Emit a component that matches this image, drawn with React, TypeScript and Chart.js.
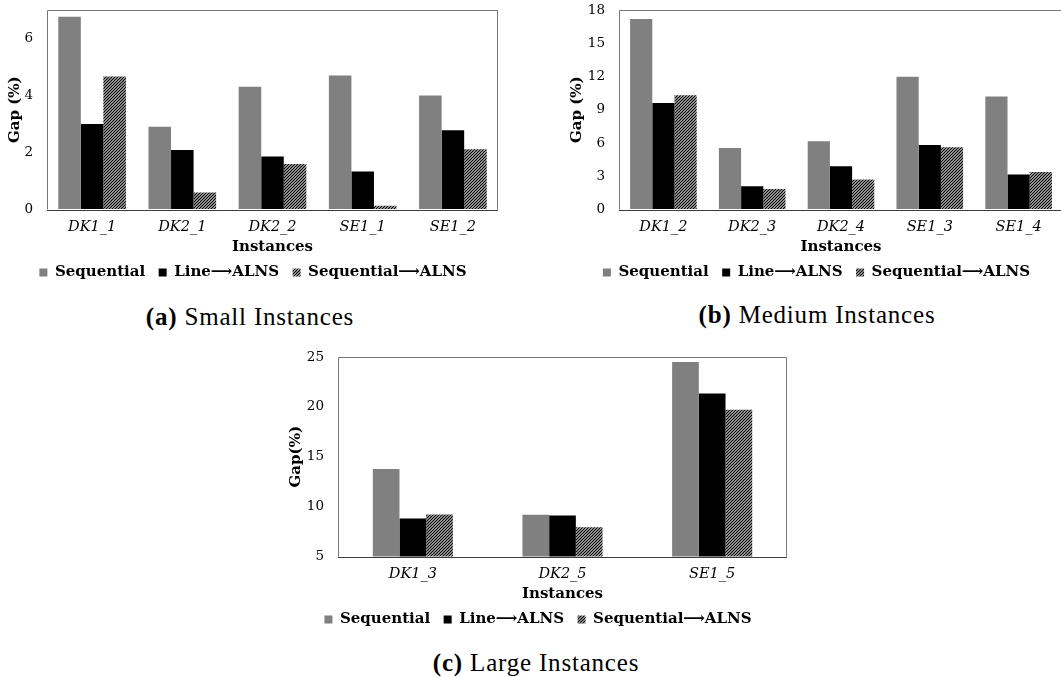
import React, { useEffect, useRef } from 'react';
import { Chart, registerables } from 'chart.js';

Chart.register(...registerables);

// ---------- data ----------
const seriesNames = ['Sequential', 'Line\u27F6ALNS', 'Sequential\u27F6ALNS'];

const smallCategories = ['DK1_1', 'DK2_1', 'DK2_2', 'SE1_1', 'SE1_2'];
const smallSequential = [6.76, 2.9, 4.31, 4.7, 4.0];
const smallLineALNS = [3.0, 2.09, 1.86, 1.33, 2.78];
const smallSeqALNS = [4.67, 0.6, 1.6, 0.13, 2.11];
const smallTicks = [0, 2, 4, 6];

const mediumCategories = ['DK1_2', 'DK2_3', 'DK2_4', 'SE1_3', 'SE1_4'];
const mediumSequential = [17.19, 5.55, 6.15, 11.97, 10.2];
const mediumLineALNS = [9.6, 2.1, 3.9, 5.82, 3.15];
const mediumSeqALNS = [10.3, 1.86, 2.7, 5.61, 3.39];
const mediumTicks = [0, 3, 6, 9, 12, 15, 18];

const largeCategories = ['DK1_3', 'DK2_5', 'SE1_5'];
const largeSequential = [13.77, 9.19, 24.5];
const largeLineALNS = [8.82, 9.12, 21.35];
const largeSeqALNS = [9.22, 7.92, 19.7];
const largeTicks = [5, 10, 15, 20, 25];

// ---------- helpers ----------
const FONT = 'DejaVu Serif';

function makeHatch(ctx: CanvasRenderingContext2D) {
  const c = document.createElement('canvas');
  c.width = 3;
  c.height = 3;
  const g = c.getContext('2d')!;
  g.fillStyle = '#ffffff';
  g.fillRect(0, 0, 3, 3);
  g.strokeStyle = '#000000';
  g.lineWidth = 1.3;
  g.beginPath();
  g.moveTo(-1, 4);
  g.lineTo(4, -1);
  g.moveTo(-2, 2);
  g.lineTo(2, -2);
  g.moveTo(1, 5);
  g.lineTo(5, 1);
  g.stroke();
  return ctx.createPattern(c, 'repeat');
}

const framePlugin = {
  id: 'frame',
  afterDatasetsDraw(chart: any) {
    const { ctx, chartArea } = chart;
    const { left, right, top, bottom } = chartArea;
    ctx.save();
    ctx.lineWidth = 1;
    ctx.strokeStyle = '#767676';
    ctx.beginPath();
    ctx.moveTo(Math.round(left) + 0.5, bottom);
    ctx.lineTo(Math.round(left) + 0.5, Math.round(top) + 0.5);
    ctx.lineTo(Math.round(right) - 0.5, Math.round(top) + 0.5);
    ctx.lineTo(Math.round(right) - 0.5, bottom);
    ctx.stroke();
    ctx.strokeStyle = '#3c3c3c';
    ctx.beginPath();
    ctx.moveTo(left, Math.round(bottom) + 0.5);
    ctx.lineTo(right, Math.round(bottom) + 0.5);
    ctx.stroke();
    ctx.restore();
  },
};

interface PanelSpec {
  categories: string[];
  seq: number[];
  line: number[];
  sa: number[];
  ticks: number[];
  min: number;
  max: number;
  yTitle: string;
  catPct: number;
  x: number;
  y: number;
  w: number;
  h: number;
  padding: { left: number; right: number; top: number; bottom: number };
  yWidth: number;
}

function BarPanel({ spec }: { spec: PanelSpec }) {
  const ref = useRef<HTMLCanvasElement>(null);
  useEffect(() => {
    const canvas = ref.current!;
    const ctx = canvas.getContext('2d')!;
    const hatch = makeHatch(ctx);
    const chart = new Chart(canvas, {
      type: 'bar',
      data: {
        labels: spec.categories,
        datasets: [
          { label: seriesNames[0], data: spec.seq, backgroundColor: '#808080', borderWidth: 0 },
          { label: seriesNames[1], data: spec.line, backgroundColor: '#000000', borderWidth: 0 },
          { label: seriesNames[2], data: spec.sa, backgroundColor: hatch as any, borderWidth: 0 },
        ],
      },
      options: {
        responsive: false,
        animation: false,
        devicePixelRatio: 1,
        layout: { padding: spec.padding },
        datasets: { bar: { categoryPercentage: spec.catPct, barPercentage: 1 } },
        plugins: {
          legend: {
            position: 'bottom',
            labels: {
              boxWidth: 8,
              boxHeight: 8,
              padding: 13.5,
              color: '#000000',
              font: { family: FONT, size: 15, weight: 'bold' },
            },
          },
          tooltip: { enabled: false },
        },
        scales: {
          x: {
            grid: { display: false, drawTicks: false },
            border: { display: false },
            ticks: {
              padding: 9,
              color: '#000000',
              font: { family: FONT, size: 14.5, style: 'italic' },
            },
            title: {
              display: true,
              text: 'Instances',
              color: '#000000',
              padding: 0,
              font: { family: FONT, size: 15, weight: 'bold', lineHeight: 0.6 },
            },
            afterFit: (s: any) => {
              s.height = 42;
            },
          },
          y: {
            min: spec.min,
            max: spec.max,
            grid: {
              display: true,
              drawOnChartArea: false,
              drawTicks: true,
              tickLength: 14,
              color: 'rgba(0,0,0,0)',
            },
            border: { display: false },
            ticks: {
              padding: 0,
              color: '#000000',
              font: { family: FONT, size: 13.5 },
            },
            title: {
              display: true,
              text: spec.yTitle,
              color: '#000000',
              padding: 0,
              font: { family: FONT, size: 15, weight: 'bold', lineHeight: 1 },
            },
            afterBuildTicks: (s: any) => {
              s.ticks = spec.ticks.map((v) => ({ value: v }));
            },
            afterFit: (s: any) => {
              s.width = spec.yWidth;
            },
          },
        },
      } as any,
      plugins: [framePlugin],
    });
    return () => chart.destroy();
  }, [spec]);
  return (
    <canvas
      ref={ref}
      width={spec.w}
      height={spec.h}
      style={{ position: 'absolute', left: spec.x, top: spec.y, width: spec.w, height: spec.h }}
    />
  );
}

const smallSpec: PanelSpec = {
  categories: smallCategories,
  seq: smallSequential,
  line: smallLineALNS,
  sa: smallSeqALNS,
  ticks: smallTicks,
  min: 0,
  max: 7,
  yTitle: 'Gap (%)',
  catPct: 0.75,
  x: 0,
  y: 0,
  w: 506,
  h: 290,
  padding: { left: 8, right: 8, top: 10, bottom: 0 },
  yWidth: 39,
};

const mediumSpec: PanelSpec = {
  categories: mediumCategories,
  seq: mediumSequential,
  line: mediumLineALNS,
  sa: mediumSeqALNS,
  ticks: mediumTicks,
  min: 0,
  max: 18,
  yTitle: 'Gap (%)',
  catPct: 0.75,
  x: 566,
  y: 0,
  w: 501,
  h: 290,
  padding: { left: 4, right: 4, top: 10, bottom: 0 },
  yWidth: 49,
};

const largeSpec: PanelSpec = {
  categories: largeCategories,
  seq: largeSequential,
  line: largeLineALNS,
  sa: largeSeqALNS,
  ticks: largeTicks,
  min: 5,
  max: 25,
  yTitle: 'Gap(%)',
  catPct: 0.535,
  x: 281,
  y: 346,
  w: 514,
  h: 291,
  padding: { left: 8, right: 8, top: 11, bottom: 0 },
  yWidth: 49,
};

function Caption({ letter, text, cx, cy }: { letter: string; text: string; cx: number; cy: number }) {
  return (
    <div
      style={{
        position: 'absolute',
        left: cx,
        top: cy,
        transform: 'translate(-50%, -50%)',
        whiteSpace: 'nowrap',
        fontFamily: '"Liberation Serif", serif',
        fontSize: 25,
        letterSpacing: '0.8px',
        lineHeight: '28px',
        color: '#000',
      }}
    >
      <b>({letter})</b> {text}
    </div>
  );
}

export default function App() {
  return (
    <div
      style={{
        position: 'absolute',
        left: 0,
        top: 0,
        width: 1061,
        height: 677,
        overflow: 'hidden',
        background: '#ffffff',
      }}
    >
      <BarPanel spec={smallSpec} />
      <BarPanel spec={mediumSpec} />
      <BarPanel spec={largeSpec} />
      <Caption letter="a" text="Small Instances" cx={250} cy={317} />
      <Caption letter="b" text="Medium Instances" cx={817} cy={315} />
      <Caption letter="c" text="Large Instances" cx={536} cy={663} />
    </div>
  );
}
